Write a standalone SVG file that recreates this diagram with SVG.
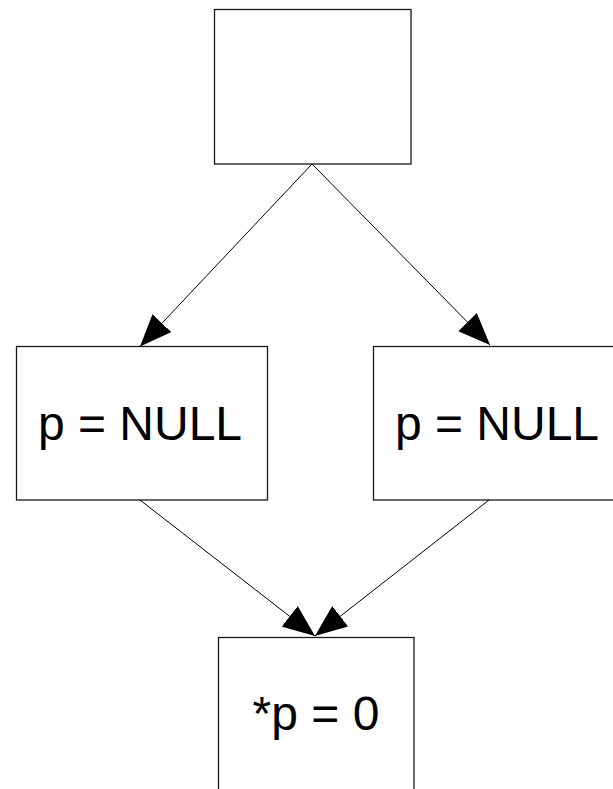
<svg xmlns="http://www.w3.org/2000/svg" width="613" height="789" viewBox="0 0 613 789">
  <defs>
    <style>
      .box { fill: #ffffff; stroke: #1a1a1a; stroke-width: 1.3; }
      .edge { fill: none; stroke: #000000; stroke-width: 1; }
      .label { font-family: "Liberation Sans", Arial, sans-serif; font-size: 48px; fill: #000000; text-anchor: middle; }
    </style>
    <marker id="arrow" markerUnits="userSpaceOnUse" viewBox="-32 -13 32 26" refX="0" refY="0" markerWidth="32" markerHeight="26" orient="auto">
      <path d="M0,0 L-32,-13 L-32,13 z" fill="#000000"/>
    </marker>
  </defs>
  <rect width="613" height="789" fill="#ffffff"/>

  <g id="entry">
    <rect class="box" x="214.5" y="9.5" width="196.5" height="154.5"/>
  </g>

  <g id="left-assign">
    <rect class="box" x="16.5" y="346.5" width="251" height="153.5"/>
    <text class="label" x="140" y="440">p = NULL</text>
  </g>

  <g id="right-assign">
    <rect class="box" x="373.5" y="346.5" width="251" height="153.5"/>
    <text class="label" x="497" y="440">p = NULL</text>
  </g>

  <g id="deref">
    <rect class="box" x="218.5" y="637.5" width="195.5" height="170"/>
    <text class="label" x="316" y="730">*p = 0</text>
  </g>

  <g id="connectors">
    <line class="edge" x1="312" y1="164" x2="140" y2="346.5" marker-end="url(#arrow)"/>
    <line class="edge" x1="312" y1="164" x2="490" y2="345" marker-end="url(#arrow)"/>
    <line class="edge" x1="140" y1="500" x2="315" y2="636" marker-end="url(#arrow)"/>
    <line class="edge" x1="489" y1="500" x2="315" y2="636" marker-end="url(#arrow)"/>
  </g>
</svg>
